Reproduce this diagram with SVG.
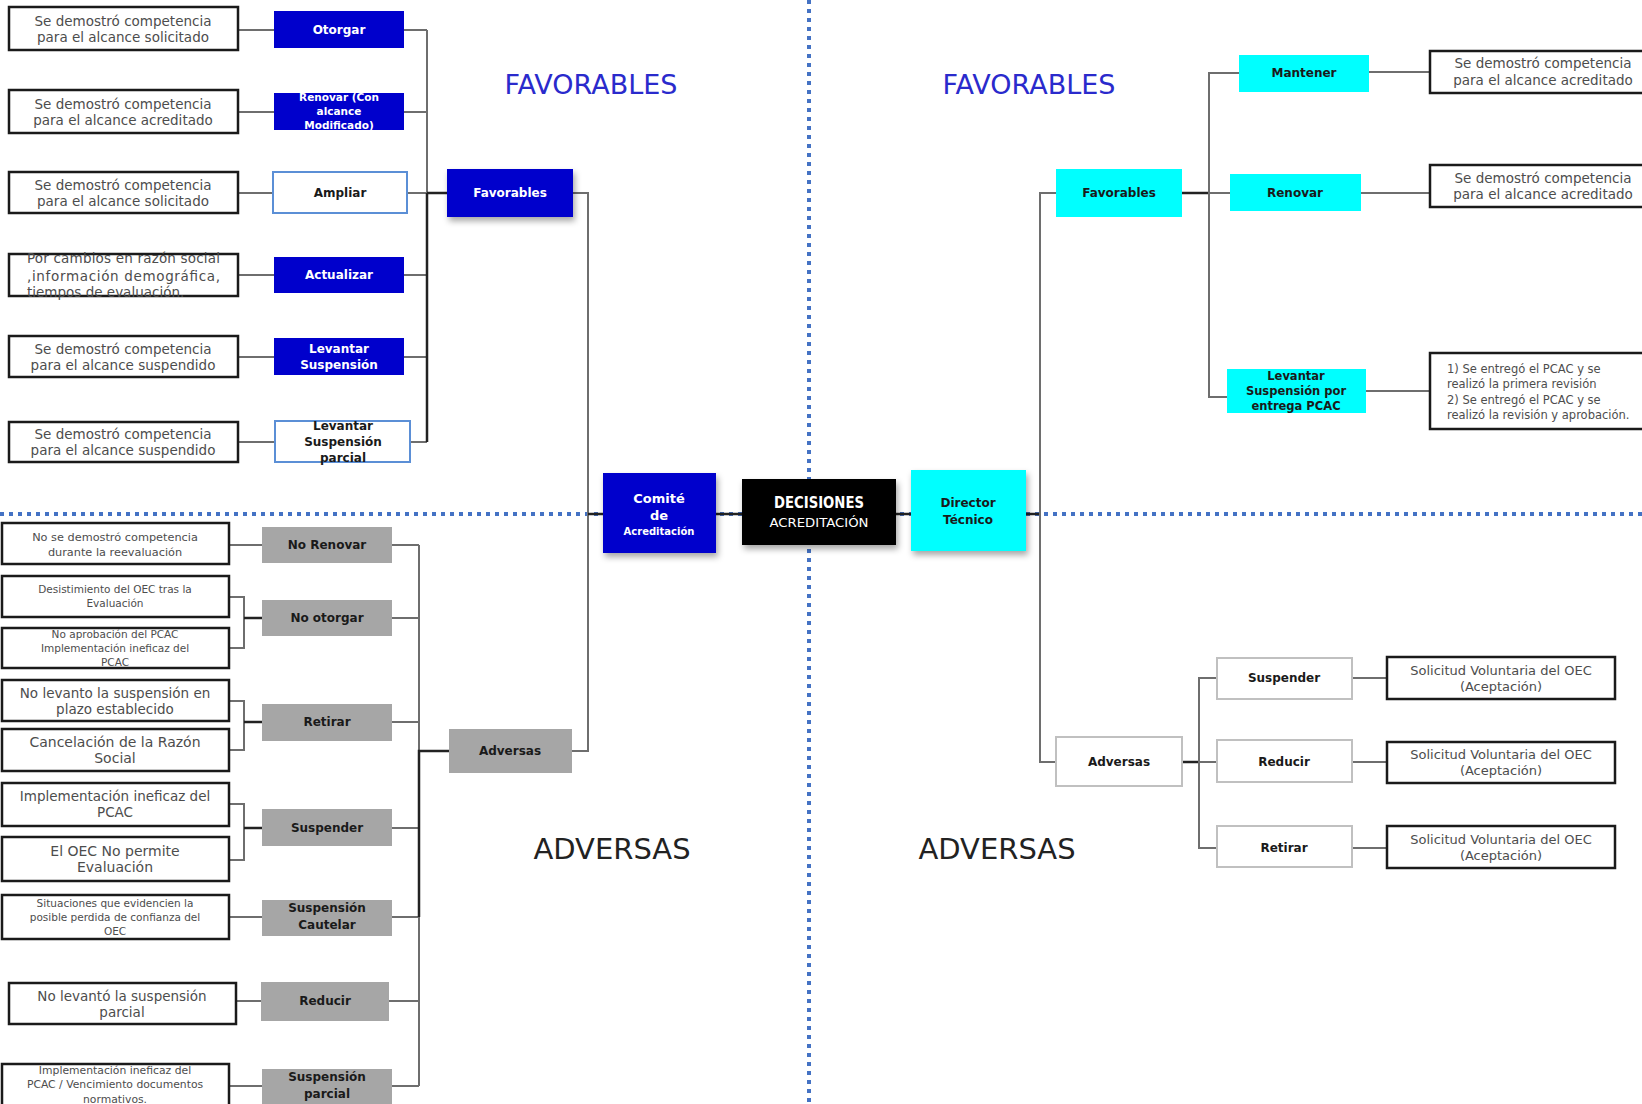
<svg xmlns="http://www.w3.org/2000/svg" width="1642" height="1104" viewBox="0 0 1642 1104">
<defs>
<style>
text{font-family:"DejaVu Sans","Liberation Sans",sans-serif;text-anchor:middle;dominant-baseline:central}
.desc{fill:#fff;stroke:#1a1a1a;stroke-width:2.5}
.dt{fill:#4d4d4d;font-size:13.5px}
.blue{fill:#0000cc}
.cyan{fill:#00ffff}
.gray{fill:#a6a6a6}
.wbox{fill:#fff;stroke:#c0c0c0;stroke-width:2}
.abox{fill:#fff;stroke:#5b8fd6;stroke-width:2}
.lbl{font-weight:bold;font-size:12px}
.lw{fill:#fff}
.ld{fill:#1a1a1a}
.conn{fill:none;stroke:#6e6e6e;stroke-width:2}
.dark{fill:none;stroke:#222;stroke-width:2.5}
.dot{stroke:#4472c4;stroke-width:4;stroke-dasharray:4 5}
.title{font-size:27px;fill:#2a2acc}
.titleA{font-size:29px;fill:#222}
</style>
<filter id="sh" x="-20%" y="-20%" width="150%" height="150%">
<feDropShadow dx="2" dy="4" stdDeviation="3" flood-color="#000" flood-opacity="0.35"/>
</filter>
<clipPath id="clipRen"><rect x="274" y="93" width="130" height="37"/></clipPath>
</defs>
<rect width="1642" height="1104" fill="#fff"/>

<g id="dividers">
<line class="dot" x1="809" y1="0" x2="809" y2="1104"/>
<line class="dot" x1="0" y1="514" x2="1642" y2="514"/>
</g>

<g id="titles">
<text class="title" x="591" y="84">FAVORABLES</text>
<text class="title" x="1029" y="84">FAVORABLES</text>
<text class="titleA" x="612" y="849">ADVERSAS</text>
<text class="titleA" x="997" y="849">ADVERSAS</text>
</g>

<g id="connectors">
<path class="conn" d="M238,30H274M238,112H274M238,193H273M238,275H274M238,357H274M238,442H275"/>
<path class="conn" d="M404,30H427M404,112H427M407,193H427M404,275H427M404,357H427M410,442H427M427,30V442"/>
<path class="dark" d="M427,193H447M427,193V442"/>
<path class="conn" d="M573,193H588V751H572"/>
<path class="dark" d="M588,514H603M716,514H742M896,514H911M1026,514H1040"/>
<path class="conn" d="M1056,193H1040V762H1056"/>
<path class="dark" d="M1182,193H1209"/>
<path class="conn" d="M1209,193H1230M1239,73H1209V397H1227M1369,72H1430M1361,193H1430M1366,391H1430"/>
<path class="dark" d="M1182,762H1199"/>
<path class="conn" d="M1199,762H1217M1217,678H1199V848H1217M1352,678H1387M1352,762H1387M1352,848H1387"/>
<path class="conn" d="M229,545H262M229,597H244V648H229M229,701H244V750H229M229,804H244V860H229M229,917H262M236,1001H261M229,1086H262"/>
<path class="dark" d="M244,618H262M244,722H262M244,828H262"/>
<path class="conn" d="M392,545H419M392,618H419M392,722H419M392,828H419M392,917H419M389,1001H419M392,1086H419M419,545V1086"/>
<path class="dark" d="M449,751H419V917"/>
</g>

<g id="n-l1"><rect class="desc" x="9" y="7" width="229" height="43"/><text class="dt" x="123" y="21">Se demostró competencia</text><text class="dt" x="123" y="37">para el alcance solicitado</text></g>
<g id="n-otorgar"><rect class="blue" x="274" y="11" width="130" height="37"/><text class="lbl lw" x="339" y="30">Otorgar</text></g>
<g id="n-l2"><rect class="desc" x="9" y="90" width="229" height="43"/><text class="dt" x="123" y="104">Se demostró competencia</text><text class="dt" x="123" y="120">para el alcance acreditado</text></g>
<g id="n-renovar-mod"><rect class="blue" x="274" y="93" width="130" height="37"/><g clip-path="url(#clipRen)"><text class="lbl lw" style="font-size:10.5px" x="339" y="97">Renovar (Con</text><text class="lbl lw" style="font-size:10.5px" x="339" y="111">alcance</text><text class="lbl lw" style="font-size:10.5px" x="339" y="125">Modificado)</text></g></g>
<g id="n-l3"><rect class="desc" x="9" y="172" width="229" height="41"/><text class="dt" x="123" y="185">Se demostró competencia</text><text class="dt" x="123" y="201">para el alcance solicitado</text></g>
<g id="n-ampliar"><rect class="abox" x="273" y="172" width="134" height="41"/><text class="lbl ld" x="340" y="193">Ampliar</text></g>
<g id="n-l4"><rect class="desc" x="9" y="254" width="229" height="42"/><text class="dt" style="text-anchor:start" x="27" y="258" textLength="193" lengthAdjust="spacing">Por cambios en razón social</text><text class="dt" style="text-anchor:start" x="27" y="276" textLength="193" lengthAdjust="spacing">,información demográfica,</text><text class="dt" style="text-anchor:start" x="27" y="292">tiempos de evaluación.</text></g>
<g id="n-actualizar"><rect class="blue" x="274" y="257" width="130" height="36"/><text class="lbl lw" x="339" y="275">Actualizar</text></g>
<g id="n-l5"><rect class="desc" x="9" y="336" width="229" height="41"/><text class="dt" x="123" y="349">Se demostró competencia</text><text class="dt" x="123" y="365">para el alcance suspendido</text></g>
<g id="n-levantar"><rect class="blue" x="274" y="338" width="130" height="37"/><text class="lbl lw" x="339" y="349">Levantar</text><text class="lbl lw" x="339" y="365">Suspensión</text></g>
<g id="n-l6"><rect class="desc" x="9" y="422" width="229" height="40"/><text class="dt" x="123" y="434">Se demostró competencia</text><text class="dt" x="123" y="450">para el alcance suspendido</text></g>
<g id="n-levantar-parcial"><rect class="abox" x="275" y="421" width="135" height="41"/><text class="lbl ld" x="343" y="426">Levantar</text><text class="lbl ld" x="343" y="442">Suspensión</text><text class="lbl ld" x="343" y="458">parcial</text></g>
<g id="n-favorables-l"><rect class="blue" filter="url(#sh)" x="447" y="169" width="126" height="48"/><text class="lbl lw" x="510" y="193">Favorables</text></g>

<g id="n-comite"><rect class="blue" filter="url(#sh)" x="603" y="473" width="113" height="80"/><text class="lbl lw" style="font-size:13px" x="659" y="498">Comité</text><text class="lbl lw" style="font-size:13px" x="659" y="515">de</text><text class="lbl lw" style="font-size:10px" x="659" y="531">Acreditación</text></g>
<g id="n-decisiones"><rect fill="#000" filter="url(#sh)" x="742" y="479" width="154" height="66"/><text fill="#fff" font-weight="bold" style="font-size:15px" x="819" y="503" textLength="90" lengthAdjust="spacingAndGlyphs">DECISIONES</text><text fill="#fff" style="font-size:12.5px" x="819" y="522" textLength="99" lengthAdjust="spacingAndGlyphs">ACREDITACIÓN</text></g>
<g id="n-director"><rect class="cyan" filter="url(#sh)" x="911" y="470" width="115" height="81"/><text class="lbl ld" x="968" y="503">Director</text><text class="lbl ld" x="968" y="520">Técnico</text></g>

<g id="n-favorables-r"><rect class="cyan" x="1056" y="169" width="126" height="48"/><text class="lbl ld" x="1119" y="193">Favorables</text></g>
<g id="n-mantener"><rect class="cyan" x="1239" y="55" width="130" height="37"/><text class="lbl ld" x="1304" y="73">Mantener</text></g>
<g id="n-r1"><rect class="desc" x="1430" y="51" width="230" height="42"/><text class="dt" x="1543" y="63">Se demostró competencia</text><text class="dt" x="1543" y="80">para el alcance acreditado</text></g>
<g id="n-renovar-r"><rect class="cyan" x="1230" y="174" width="131" height="37"/><text class="lbl ld" x="1295" y="193">Renovar</text></g>
<g id="n-r2"><rect class="desc" x="1430" y="165" width="230" height="42"/><text class="dt" x="1543" y="178">Se demostró competencia</text><text class="dt" x="1543" y="194">para el alcance acreditado</text></g>
<g id="n-levantar-pcac"><rect class="cyan" x="1227" y="369" width="139" height="44"/><text class="lbl ld" style="font-size:11.5px" x="1296" y="376">Levantar</text><text class="lbl ld" style="font-size:11.5px" x="1296" y="391">Suspensión por</text><text class="lbl ld" style="font-size:11.5px" x="1296" y="406">entrega PCAC</text></g>
<g id="n-r3"><rect class="desc" x="1430" y="353" width="230" height="76"/><text class="dt" style="font-size:11.5px;text-anchor:start" x="1447" y="369">1) Se entregó el PCAC y se</text><text class="dt" style="font-size:11.5px;text-anchor:start" x="1447" y="384">realizó la primera revisión</text><text class="dt" style="font-size:11.5px;text-anchor:start" x="1447" y="400">2) Se entregó el PCAC y se</text><text class="dt" style="font-size:11.5px;text-anchor:start" x="1447" y="415">realizó la revisión y aprobación.</text></g>

<g id="n-adversas-r"><rect class="wbox" x="1056" y="737" width="126" height="49"/><text class="lbl ld" x="1119" y="762">Adversas</text></g>
<g id="n-suspender-r"><rect class="wbox" x="1217" y="658" width="135" height="41"/><text class="lbl ld" x="1284" y="678">Suspender</text></g>
<g id="n-reducir-r"><rect class="wbox" x="1217" y="740" width="135" height="42"/><text class="lbl ld" x="1284" y="762">Reducir</text></g>
<g id="n-retirar-r"><rect class="wbox" x="1217" y="826" width="135" height="41"/><text class="lbl ld" x="1284" y="848">Retirar</text></g>
<g id="n-s1"><rect class="desc" x="1387" y="657" width="228" height="42"/><text class="dt" style="font-size:13px" x="1501" y="670">Solicitud Voluntaria del OEC</text><text class="dt" style="font-size:13px" x="1501" y="686">(Aceptación)</text></g>
<g id="n-s2"><rect class="desc" x="1387" y="742" width="228" height="41"/><text class="dt" style="font-size:13px" x="1501" y="754">Solicitud Voluntaria del OEC</text><text class="dt" style="font-size:13px" x="1501" y="770">(Aceptación)</text></g>
<g id="n-s3"><rect class="desc" x="1387" y="826" width="228" height="42"/><text class="dt" style="font-size:13px" x="1501" y="839">Solicitud Voluntaria del OEC</text><text class="dt" style="font-size:13px" x="1501" y="855">(Aceptación)</text></g>

<g id="n-adversas-l"><rect class="gray" x="449" y="729" width="123" height="44"/><text class="lbl ld" x="510" y="751">Adversas</text></g>
<g id="n-a1"><rect class="desc" x="2" y="523" width="227" height="41"/><text class="dt" style="font-size:11.3px" x="115" y="537">No se demostró competencia</text><text class="dt" style="font-size:11.3px" x="115" y="552">durante la reevaluación</text></g>
<g id="n-no-renovar"><rect class="gray" x="262" y="527" width="130" height="36"/><text class="lbl ld" x="327" y="545">No Renovar</text></g>
<g id="n-a2"><rect class="desc" x="2" y="576" width="227" height="41"/><text class="dt" style="font-size:10.5px" x="115" y="589">Desistimiento del OEC tras la</text><text class="dt" style="font-size:10.5px" x="115" y="603">Evaluación</text></g>
<g id="n-a3"><rect class="desc" x="2" y="628" width="227" height="40"/><text class="dt" style="font-size:10.5px" x="115" y="634">No aprobación del PCAC</text><text class="dt" style="font-size:10.5px" x="115" y="648">Implementación ineficaz del</text><text class="dt" style="font-size:10.5px" x="115" y="662">PCAC</text></g>
<g id="n-no-otorgar"><rect class="gray" x="262" y="600" width="130" height="36"/><text class="lbl ld" x="327" y="618">No otorgar</text></g>
<g id="n-a4"><rect class="desc" x="2" y="680" width="227" height="41"/><text class="dt" x="115" y="693">No levanto la suspensión en</text><text class="dt" x="115" y="709">plazo establecido</text></g>
<g id="n-a5"><rect class="desc" x="2" y="729" width="227" height="42"/><text class="dt" style="font-size:14px" x="115" y="742">Cancelación de la Razón</text><text class="dt" style="font-size:14px" x="115" y="758">Social</text></g>
<g id="n-retirar-l"><rect class="gray" x="262" y="704" width="130" height="37"/><text class="lbl ld" x="327" y="722">Retirar</text></g>
<g id="n-a6"><rect class="desc" x="2" y="783" width="227" height="43"/><text class="dt" x="115" y="796">Implementación ineficaz  del</text><text class="dt" x="115" y="812">PCAC</text></g>
<g id="n-a7"><rect class="desc" x="2" y="837" width="227" height="44"/><text class="dt" style="font-size:14px" x="115" y="851">El OEC No permite</text><text class="dt" style="font-size:14px" x="115" y="867">Evaluación</text></g>
<g id="n-suspender-l"><rect class="gray" x="262" y="809" width="130" height="37"/><text class="lbl ld" x="327" y="828">Suspender</text></g>
<g id="n-a8"><rect class="desc" x="2" y="895" width="227" height="44"/><text class="dt" style="font-size:10.5px" x="115" y="903">Situaciones que evidencien la</text><text class="dt" style="font-size:10.5px" x="115" y="917">posible perdida de confianza del</text><text class="dt" style="font-size:10.5px" x="115" y="931">OEC</text></g>
<g id="n-cautelar"><rect class="gray" x="262" y="900" width="130" height="36"/><text class="lbl ld" x="327" y="908">Suspensión</text><text class="lbl ld" x="327" y="925">Cautelar</text></g>
<g id="n-a9"><rect class="desc" x="9" y="983" width="227" height="41"/><text class="dt" x="122" y="996">No levantó la suspensión</text><text class="dt" x="122" y="1012">parcial</text></g>
<g id="n-reducir-l"><rect class="gray" x="261" y="982" width="128" height="39"/><text class="lbl ld" x="325" y="1001">Reducir</text></g>
<g id="n-a10"><rect class="desc" x="2" y="1064" width="227" height="50"/><text class="dt" style="font-size:10.8px" x="115" y="1070">Implementación ineficaz del</text><text class="dt" style="font-size:10.8px" x="115" y="1084">PCAC / Vencimiento documentos</text><text class="dt" style="font-size:10.8px" x="115" y="1099">normativos.</text></g>
<g id="n-susp-parcial"><rect class="gray" x="262" y="1069" width="130" height="45"/><text class="lbl ld" x="327" y="1077">Suspensión</text><text class="lbl ld" x="327" y="1094">parcial</text></g>
</svg>
